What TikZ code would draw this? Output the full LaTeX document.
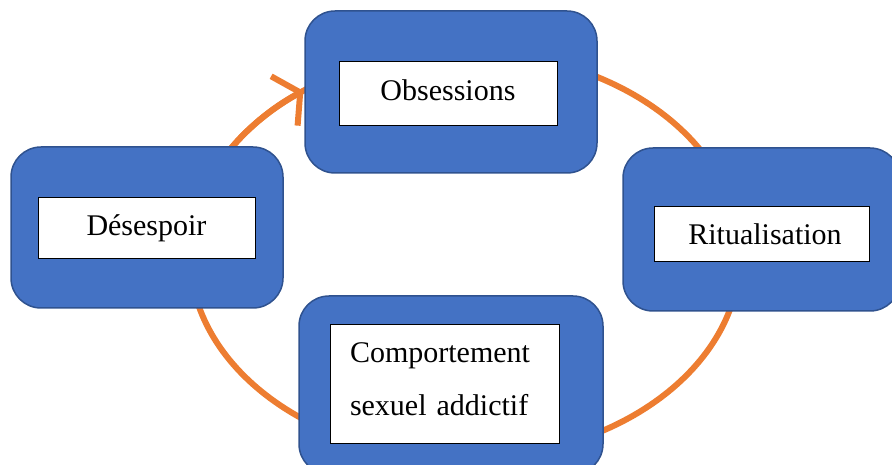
\documentclass[tikz,border=0pt]{standalone}
\usepackage{fontspec}
\setmainfont{Liberation Serif}
\usetikzlibrary{arrows.meta,calc,positioning}
\definecolor{boxblue}{HTML}{4472C4}
\definecolor{boxedge}{HTML}{2F528F}
\definecolor{cycleorange}{HTML}{ED7D31}
\tikzset{
  outerbox/.style={draw=boxedge, fill=boxblue, line width=1.5pt, rounded corners=30pt, inner sep=0pt},
  labelbox/.style={draw=black, fill=white, line width=1pt, inner sep=0pt, font=\fontsize{30}{53}\selectfont},
  oneline/.style={labelbox, text height=21pt, text depth=7.5pt},
  cyclearc/.style={draw=cycleorange, line width=6pt}
}
\begin{document}
\begin{tikzpicture}[x=1pt,y=1pt]
\useasboundingbox (0,0) rectangle (892,464);
\coordinate (cyc) at (465,209);
% orange cycle behind the boxes
\draw[cyclearc] (cyc) ellipse [x radius=275, y radius=203];
\draw[cyclearc, -{Straight Barb[length=18pt,width=56pt]}]
  ($(cyc)+(150:275 and 203)$) arc [start angle=150, end angle=126, x radius=275, y radius=203];
% boxes
\node[outerbox, minimum width=292pt, minimum height=162pt] (obs) at (451,372) {};
\node[oneline, minimum width=218pt, minimum height=64pt] (obsLabel) at (448,370) {Obsessions};
\node[outerbox, minimum width=277pt, minimum height=163pt] (rit) at (761.5,234.5) {};
\node[oneline, text depth=0pt, minimum width=215pt, minimum height=55pt] (ritLabel) at (761.5,229.5) {\hspace{7pt}Ritualisation};
\node[outerbox, minimum width=304pt, minimum height=178pt] (comp) at (451,79) {};
\node[labelbox, minimum height=118pt, inner xsep=20pt, text width=189pt, text height=21pt, text depth=65pt, align=left] (compLabel) at (444.5,80) {Comportement\\sexuel addictif};
\node[outerbox, minimum width=272pt, minimum height=161pt] (des) at (147,236.5) {};
\node[oneline, minimum width=217pt, minimum height=61pt] (desLabel) at (146.5,235.5) {Désespoir};
\end{tikzpicture}
\end{document}
